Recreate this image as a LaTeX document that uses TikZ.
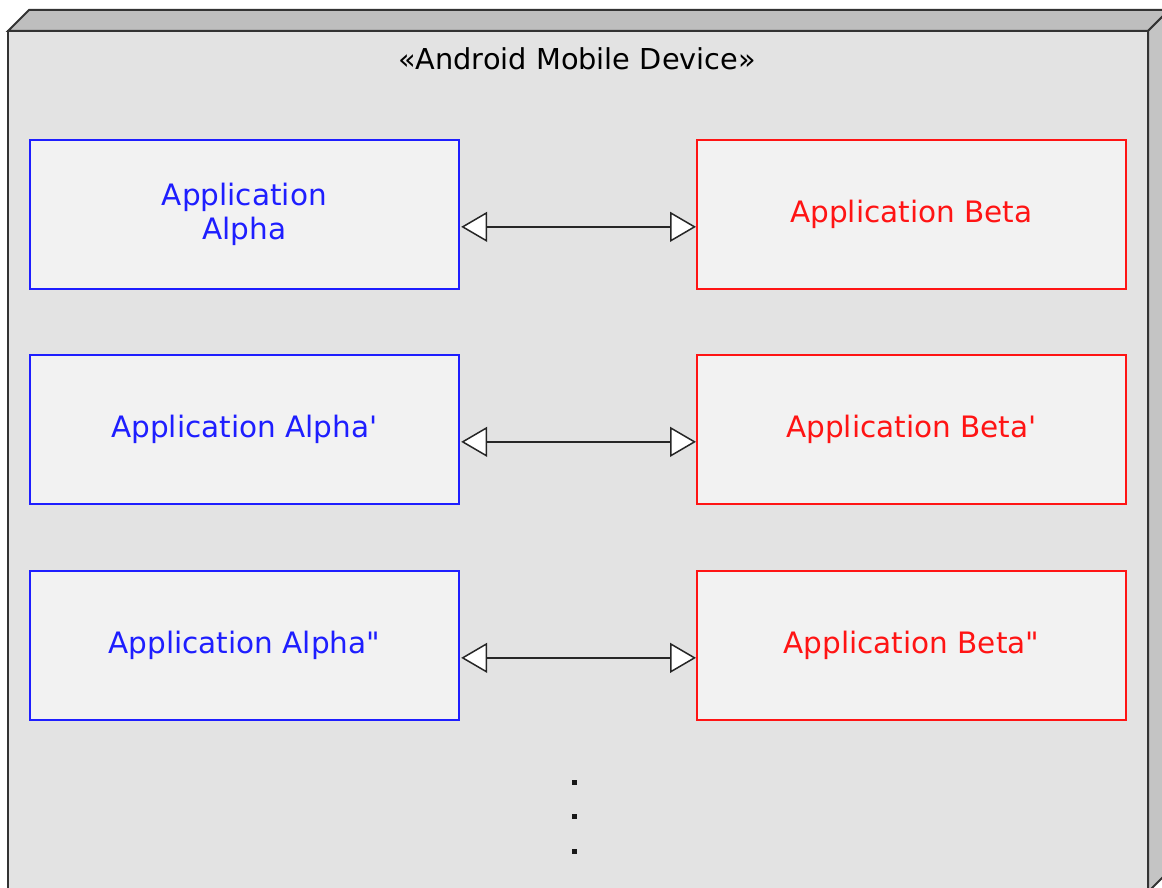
\documentclass[tikz,border=0pt]{standalone}
\usepackage{fontspec}
\setmainfont{DejaVu Sans}
\usetikzlibrary{arrows.meta}
\definecolor{frontgray}{RGB}{227,227,227}
\definecolor{topgray}{RGB}{190,190,190}
\definecolor{sidegray}{RGB}{196,196,196}
\definecolor{boxfill}{RGB}{242,242,242}
\definecolor{alphablue}{RGB}{30,30,255}
\definecolor{betared}{RGB}{255,20,20}
\tikzset{
  appbox/.style={draw, line width=1.7pt, fill=boxfill, minimum width=429pt, minimum height=149pt,
    anchor=north west, inner sep=0pt, align=center,
    font=\fontsize{29.5}{34}\selectfont},
  alphabox/.style={appbox, draw=alphablue, text=alphablue},
  betabox/.style={appbox, draw=betared, text=betared},
  link/.style={line width=1.5pt, draw=black!85,
    {Triangle[length=26pt,width=30pt,fill=white,line width=1.5pt]}-{Triangle[length=26pt,width=30pt,fill=white,line width=1.5pt]}},
  devedge/.style={line width=2pt, draw=black!80, line join=miter},
  dot/.style={fill=black!90, minimum size=5pt, inner sep=0pt}
}
\begin{document}
\begin{tikzpicture}[x=1pt,y=-1pt]
\useasboundingbox (0,0) rectangle (1162,888);
\begin{scope}
\clip (0,0) rectangle (1162,888);
\fill[white] (0,0) rectangle (1162,888);
\draw[devedge, fill=topgray] (8,31) -- (29,10) -- (1169,10) -- (1148,31) -- cycle;
\draw[devedge, fill=sidegray] (1148,31) -- (1169,10) -- (1169,871) -- (1148,892) -- cycle;
\draw[devedge, fill=frontgray] (8,31) rectangle (1148,892);
\end{scope}
\node[font=\fontsize{28.8}{32}\selectfont, anchor=base] (title) at (577,70) {«Android Mobile Device»};

\node[alphabox] (a1) at (29,139) {Application\\Alpha};
\node[alphabox] (a2) at (29,354) {Application Alpha\textquotesingle};
\node[alphabox] (a3) at (29,570) {Application Alpha\textquotedbl};
\node[betabox] (b1) at (696,139) {Application Beta};
\node[betabox] (b2) at (696,354) {Application Beta\textquotesingle};
\node[betabox] (b3) at (696,570) {Application Beta\textquotedbl};

\draw[link] ([yshift=-12.5pt,xshift=1.5pt]a1.east) -- ([yshift=-12.5pt]b1.west);
\draw[link] ([yshift=-12.5pt,xshift=1.5pt]a2.east) -- ([yshift=-12.5pt]b2.west);
\draw[link] ([yshift=-12.5pt,xshift=1.5pt]a3.east) -- ([yshift=-12.5pt]b3.west);

\node[dot] (d1) at (574,782) {};
\node[dot] (d2) at (574,816) {};
\node[dot] (d3) at (574,851) {};
\end{tikzpicture}
\end{document}
